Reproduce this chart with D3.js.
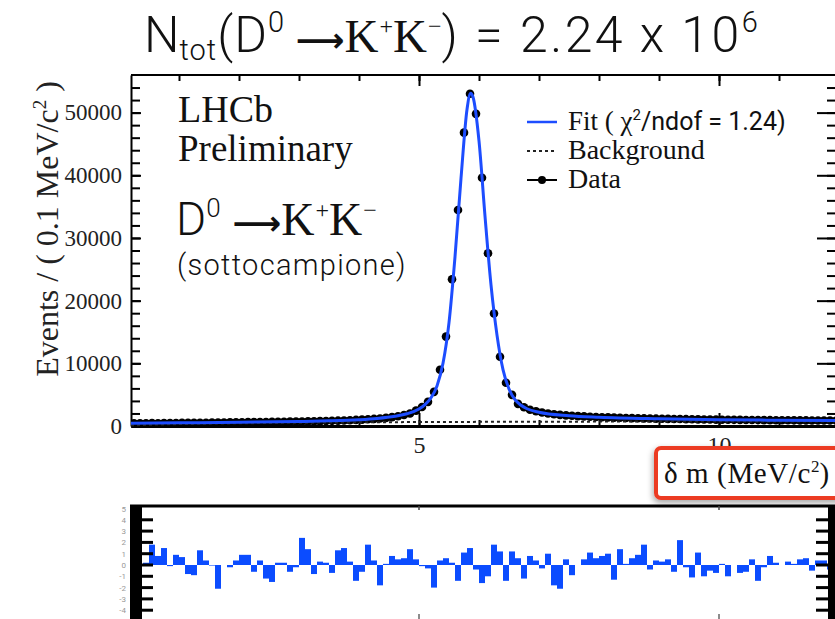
<!DOCTYPE html>
<html>
<head>
<meta charset="utf-8">
<script src="https://cdn.jsdelivr.net/npm/d3@7"></script>
<style>
body { margin: 0; background: #fff; }
svg { display: block; }
</style>
</head>
<body>
<div id="chart"></div>
<script>
var svgWidth = 835;
var svgHeight = 619;

// histogram bins (0.1 MeV wide, starting at 0.2)
var binStart = 0.2;
var binWidth = 0.1;
var dataCounts = [
  430, 445, 440, 455, 450, 470, 465, 480,
  500, 495, 520, 530, 525, 545, 555, 560, 575, 585,
  600, 615, 620, 640, 650, 655, 675, 680, 695, 705,
  725, 740, 760, 780, 805, 825, 850, 885, 925, 970,
  1020, 1070, 1130, 1200, 1300, 1420, 1560, 1750, 2000, 2450,
  3040, 3850, 5450, 8970, 14260, 23400, 34450, 46800, 53000, 49800,
  39600, 27560, 17950, 11060, 6900, 4970, 3530, 3000, 2600, 2350,
  2150, 2000, 1880, 1780, 1700, 1640, 1580, 1530, 1480, 1440,
  1400, 1370, 1340, 1310, 1280, 1250, 1230, 1210, 1190, 1170,
  1150, 1135, 1120, 1105, 1090, 1075, 1060, 1045, 1030, 1015,
  1000, 990, 985, 975, 965, 955, 945, 940, 930, 925,
  915, 910, 905, 900, 890, 885, 880, 875, 870, 865
];

// fit curve
var fitX = [0.2, 1.0, 2.0, 3.0, 3.5, 4.0, 4.3, 4.6, 4.8, 5.0, 5.1, 5.2, 5.3, 5.4, 5.5, 5.6, 5.7, 5.8, 5.86,
  5.9, 6.0, 6.1, 6.2, 6.3, 6.4, 6.5, 6.6, 6.7, 6.8, 7.0, 7.5, 8.0, 9.0, 10.0, 11.0, 12.0];
var fitY = [420, 500, 600, 720, 820, 1000, 1200, 1550, 1950, 2700, 3400, 4500, 6400, 10000, 16500, 27000, 39500, 50500, 53100,
  52500, 45500, 33500, 22500, 14500, 9000, 5900, 4200, 3300, 2750, 2200, 1650, 1400, 1150, 1000, 920, 860];

// background component
var bkgX = [0.2, 0.5, 1.0, 2.0, 3.0, 4.0, 5.0, 6.0, 7.0, 8.0, 10.0, 12.0];
var bkgY = [80, 200, 300, 430, 520, 580, 630, 660, 680, 700, 720, 730];

// pulls in the lower panel
var pullStart = 0.4;
var pulls = [
  0.2, 1.8, 0.8, 1.5, -0.1, 0.9, 0.7, -0.8, -0.9, 1.3,
  0.4, -0.05, -2.1, 0.0, -0.2, 0.4, 0.9, 0.9, -0.6, 0.4,
  -1.2, -1.5, 0.2, 0.2, -0.6, -0.2, 2.4, 1.4, -0.8, 0.3,
  0.2, -0.7, 1.3, 1.5, 0.3, -1.4, -0.6, 1.8, 0.4, -1.8,
  0.1, 0.8, 0.5, 0.6, 1.4, 0.5, -0.1, -0.3, -2.0, 0.4,
  0.6, 0.2, -1.4, 1.1, 1.5, -0.4, -1.6, -1.0, 1.8, 1.2,
  -1.4, 1.2, 0.6, -1.2, 0.8, 0.4, -0.3, 1.0, -1.8, -2.1,
  0.5, -0.9, 0.0, 0.5, 1.1, 0.6, 0.8, 1.0, -1.3, 1.4,
  0.1, 0.6, 0.9, 1.8, -0.4, 0.4, 0.3, 0.5, -0.6, 2.2,
  -0.2, -1.1, 1.1, -1.0, -0.5, -0.7, 0.1, -1.0, 0.0, -0.7,
  -0.6, 0.5, -1.4, -0.2, 0.8, 0.2, 0.0, 0.3, 0.1, 0.5,
  0.6, -0.5, 0.4, 0.4, -0.4
];

var yTicks = [0, 10000, 20000, 30000, 40000, 50000];
var xTicks = [5, 10];
var pullTicks = [-4, -3, -2, -1, 0, 1, 2, 3, 4, 5];

var serif = "'Liberation Serif', 'Times New Roman', serif";
var sans = "Roboto, 'Helvetica Neue', Arial, sans-serif";
var arrowFont = "'DejaVu Sans', sans-serif";
var fitColor = "#1d4dff";

var plot = { left: 131, right: 839, top: 75, bottom: 426 };

var svg = d3.select("#chart")
  .append("svg")
  .attr("width", svgWidth)
  .attr("height", svgHeight);

var x = d3.scaleLinear().domain([0.2, 12]).range([plot.left, plot.right]);
var y = d3.scaleLinear().domain([0, 56000]).range([plot.bottom, plot.top]);

// writes a line of mixed-font text, parts shifted up/down by "shift"
function richText(sel, px, py, parts) {
  var t = sel.append("text").attr("x", px).attr("y", py).attr("fill", "#111");
  var cur = 0;
  parts.forEach(function(p) {
    var s = p.shift || 0;
    t.append("tspan")
      .attr("dy", s - cur)
      .attr("font-family", p.font || sans)
      .attr("font-size", p.size)
      .attr("font-weight", p.weight || 400)
      .attr("letter-spacing", p.ls || 0)
      .text(p.t);
    cur = s;
  });
  return t;
}

// ---- main frame and axes ----
svg.append("line").attr("x1", plot.left).attr("x2", plot.right).attr("y1", plot.top).attr("y2", plot.top)
  .attr("stroke", "#000").attr("stroke-width", 2);
svg.append("line").attr("x1", plot.right).attr("x2", plot.right).attr("y1", plot.top).attr("y2", plot.bottom)
  .attr("stroke", "#000").attr("stroke-width", 2);

var minorY = d3.range(0, 56000, 2000);
var minorX = d3.range(1, 12, 1);

var leftAxis = d3.axisLeft(y).tickValues(yTicks).tickSize(-10).tickSizeOuter(0).tickPadding(9).tickFormat(d3.format("d"));
var gLeft = svg.append("g").attr("transform", `translate(${plot.left},0)`).call(leftAxis);
gLeft.select(".domain").attr("stroke-width", 2);
gLeft.selectAll(".tick line").attr("stroke-width", 2);
gLeft.selectAll("text").attr("font-family", serif).attr("font-size", 23).attr("fill", "#222");

svg.append("g").attr("transform", `translate(${plot.left},0)`)
  .call(d3.axisLeft(y).tickValues(minorY).tickSize(-9).tickSizeOuter(0).tickFormat(""))
  .call(g => g.select(".domain").remove())
  .selectAll("line").attr("stroke-width", 2);

svg.append("g").attr("transform", `translate(${plot.right},0)`)
  .call(d3.axisRight(y).tickValues(yTicks).tickSize(-22).tickSizeOuter(0).tickFormat(""))
  .call(g => g.select(".domain").remove())
  .selectAll("line").attr("stroke-width", 2);
svg.append("g").attr("transform", `translate(${plot.right},0)`)
  .call(d3.axisRight(y).tickValues(minorY).tickSize(-12).tickSizeOuter(0).tickFormat(""))
  .call(g => g.select(".domain").remove())
  .selectAll("line").attr("stroke-width", 2);

// top ticks
svg.append("g").attr("transform", `translate(0,${plot.top})`)
  .call(d3.axisTop(x).tickValues(minorX).tickSize(-6).tickSizeOuter(0).tickFormat(""))
  .call(g => g.select(".domain").remove())
  .selectAll("line").attr("stroke-width", 2);
svg.append("g").attr("transform", `translate(0,${plot.top})`)
  .call(d3.axisTop(x).tickValues(xTicks).tickSize(-11).tickSizeOuter(0).tickFormat(""))
  .call(g => g.select(".domain").remove())
  .selectAll("line").attr("stroke-width", 2);

// bottom axis
var gBottom = svg.append("g").attr("transform", `translate(0,${plot.bottom})`)
  .call(d3.axisBottom(x).tickValues(xTicks).tickSize(-13).tickSizeOuter(0).tickPadding(10).tickFormat(d3.format("d")));
gBottom.select(".domain").attr("stroke-width", 3);
gBottom.selectAll(".tick line").attr("stroke-width", 2);
gBottom.selectAll("text").attr("font-family", serif).attr("font-size", 24).attr("fill", "#222");
svg.append("g").attr("transform", `translate(0,${plot.bottom})`)
  .call(d3.axisBottom(x).tickValues(minorX).tickSize(-6).tickSizeOuter(0).tickFormat(""))
  .call(g => g.select(".domain").remove())
  .selectAll("line").attr("stroke-width", 2);

// ---- data, fit, background ----
var points = dataCounts.map(function(c, i) {
  return { x: binStart + binWidth * (i + 0.5), n: c };
});

svg.append("clipPath").attr("id", "plotclip").append("rect")
  .attr("x", plot.left).attr("y", plot.top).attr("width", plot.right - plot.left).attr("height", plot.bottom - plot.top + 6);

var gData = svg.append("g").attr("clip-path", "url(#plotclip)");

gData.selectAll("line.err").data(points).enter().append("line")
  .attr("class", "err")
  .attr("x1", d => x(d.x)).attr("x2", d => x(d.x))
  .attr("y1", d => y(d.n + Math.sqrt(d.n))).attr("y2", d => y(d.n - Math.sqrt(d.n)))
  .attr("stroke", "#000").attr("stroke-width", 1.5);

gData.selectAll("circle").data(points).enter().append("circle")
  .attr("cx", d => x(d.x))
  .attr("cy", d => y(d.n))
  .attr("r", 4.3)
  .attr("fill", "#000");

var fitLine = d3.line().x(d => x(d[0])).y(d => y(d[1])).curve(d3.curveMonotoneX);

gData.append("path")
  .datum(d3.zip(bkgX, bkgY))
  .attr("d", fitLine)
  .attr("fill", "none")
  .attr("stroke", "#222")
  .attr("stroke-width", 2)
  .attr("stroke-dasharray", "3,3");

gData.append("path")
  .datum(d3.zip(fitX, fitY))
  .attr("d", fitLine)
  .attr("fill", "none")
  .attr("stroke", fitColor)
  .attr("stroke-width", 3);

// ---- y label ----
svg.append("text")
  .attr("transform", "translate(58,229) rotate(-90)")
  .attr("text-anchor", "middle")
  .attr("font-family", serif)
  .attr("font-size", 32)
  .attr("fill", "#222")
  .text("Events / ( 0.1 MeV/c")
  .append("tspan").attr("dy", -12).attr("font-size", 19).text("2")
  .append("tspan").attr("dy", 12).attr("font-size", 32).text(" )");

// ---- legend ----
var lg = svg.append("g");
lg.append("line").attr("x1", 527).attr("x2", 557).attr("y1", 122).attr("y2", 122)
  .attr("stroke", fitColor).attr("stroke-width", 2.5);
lg.append("line").attr("x1", 527).attr("x2", 557).attr("y1", 151).attr("y2", 151)
  .attr("stroke", "#222").attr("stroke-width", 2).attr("stroke-dasharray", "3,3");
lg.append("line").attr("x1", 527).attr("x2", 557).attr("y1", 180).attr("y2", 180)
  .attr("stroke", "#000").attr("stroke-width", 2);
lg.append("circle").attr("cx", 542).attr("cy", 180).attr("r", 4).attr("fill", "#000");

richText(lg, 568, 130, [
  { t: "Fit ( ", size: 27, font: serif },
  { t: "χ", size: 27, font: serif },
  { t: "2", size: 15, font: sans, shift: -10 },
  { t: "/ndof = 1.24)", size: 25, font: sans }
]);
richText(lg, 568, 159, [{ t: "Background", size: 28, font: serif }]);
richText(lg, 568, 188, [{ t: "Data", size: 28, font: serif }]);

// ---- annotations ----
richText(svg, 178, 122, [{ t: "LHCb", size: 38, font: serif }]);
richText(svg, 178, 161, [{ t: "Preliminary", size: 37, font: serif }]);
richText(svg, 176, 235, [
  { t: "D", size: 46, font: sans, weight: 300 },
  { t: "0", size: 26, font: sans, weight: 300, shift: -18 },
  { t: " ⟶", size: 34, font: arrowFont, weight: 700 },
  { t: "K", size: 46, font: serif, ls: 1 },
  { t: "+", size: 24, font: serif, shift: -17 },
  { t: "K", size: 46, font: serif, ls: 1 },
  { t: "−", size: 24, font: serif, shift: -17 }
]);
richText(svg, 177, 275, [{ t: "(sottocampione)", size: 29, font: sans, weight: 300, ls: 1.3 }]);

// ---- title ----
richText(svg, 144, 52, [
  { t: "N", size: 50, font: sans, weight: 300 },
  { t: "tot", size: 29, font: sans, weight: 300, shift: 8, ls: 1 },
  { t: "(D", size: 50, font: sans, weight: 300, ls: 1 },
  { t: "0", size: 29, font: sans, weight: 300, shift: -20 },
  { t: " ⟶", size: 34, font: arrowFont, weight: 700 },
  { t: "K", size: 47, font: serif, ls: 1 },
  { t: "+", size: 24, font: serif, shift: -18 },
  { t: "K", size: 47, font: serif, ls: 1 },
  { t: "−", size: 24, font: serif, shift: -18 }, 
  { t: ") = 2.24 x 10", size: 50, font: sans, weight: 300, ls: 2.5 },
  { t: "6", size: 29, font: sans, weight: 300, shift: -20 }
]);

// ---- highlighted x title ----
var defs = svg.append("defs");
var f = defs.append("filter").attr("id", "shadow").attr("x", "-20%").attr("y", "-30%").attr("width", "140%").attr("height", "170%");
f.append("feDropShadow").attr("dx", -1).attr("dy", 3).attr("stdDeviation", 3).attr("flood-color", "#000").attr("flood-opacity", 0.35);

svg.append("rect")
  .attr("x", 656).attr("y", 448).attr("width", 192).attr("height", 50).attr("rx", 5)
  .attr("fill", "#fff").attr("stroke", "#ec3a24").attr("stroke-width", 4)
  .attr("filter", "url(#shadow)");
richText(svg, 664, 483, [
  { t: "δ m (MeV/c", size: 29, font: serif, ls: 0.6 },
  { t: "2", size: 17, font: serif, shift: -11 },
  { t: ")", size: 29, font: serif }
]);

// ---- pull panel ----
var yR = d3.scaleLinear().domain([-5, 5]).range([621.5, 508.5]);
var rp = svg.append("g");

rp.selectAll("rect.bar").data(pulls).enter().append("rect")
  .attr("class", "bar")
  .attr("x", (d, i) => x(pullStart + i * binWidth))
  .attr("width", x(binWidth) - x(0))
  .attr("y", d => yR(Math.max(0, d)))
  .attr("height", d => Math.abs(yR(d) - yR(0)))
  .attr("fill", "#0b4cff");

rp.append("line").attr("x1", 130).attr("x2", plot.right).attr("y1", 506).attr("y2", 506)
  .attr("stroke", "#000").attr("stroke-width", 3);
rp.append("rect").attr("x", 130).attr("y", 505).attr("width", 12).attr("height", 120).attr("fill", "#000");
rp.append("rect").attr("x", 828).attr("y", 505).attr("width", 12).attr("height", 120).attr("fill", "#000");

rp.selectAll("line.lt").data(pullTicks.slice(0, -1)).enter().append("line")
  .attr("class", "lt")
  .attr("x1", 142).attr("x2", 153).attr("y1", d => yR(d)).attr("y2", d => yR(d))
  .attr("stroke", "#000").attr("stroke-width", 3);
rp.selectAll("line.rt").data(pullTicks.slice(0, -1)).enter().append("line")
  .attr("class", "rt")
  .attr("x1", 816).attr("x2", 828).attr("y1", d => yR(d)).attr("y2", d => yR(d))
  .attr("stroke", "#000").attr("stroke-width", 3);

rp.selectAll("line.xt").data(xTicks).enter().append("line")
  .attr("class", "xt")
  .attr("x1", d => x(d)).attr("x2", d => x(d)).attr("y1", 506).attr("y2", 510)
  .attr("stroke", "#444").attr("stroke-width", 1.5);
rp.selectAll("line.xb").data(xTicks).enter().append("line")
  .attr("class", "xb")
  .attr("x1", d => x(d)).attr("x2", d => x(d)).attr("y1", 614).attr("y2", 619)
  .attr("stroke", "#666").attr("stroke-width", 1.5);

rp.selectAll("text").data(pullTicks).enter().append("text")
  .attr("x", 126).attr("y", d => yR(d) + 3)
  .attr("text-anchor", "end")
  .attr("font-family", sans)
  .attr("font-size", 8)
  .attr("fill", "#999")
  .text(d => d);
</script>
</body>
</html>
